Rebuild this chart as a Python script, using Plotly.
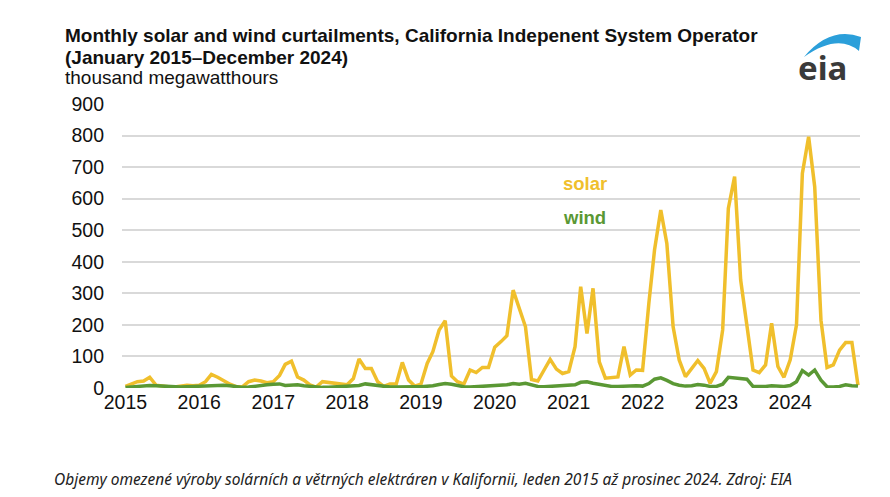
import pandas as pd
import plotly.graph_objects as go

months = pd.date_range("2015-01-01", "2024-12-01", freq="MS")

solar = [
    5, 12, 20, 22, 34, 9, 6, 4, 3, 6, 9, 7,          # 2015
    9, 20, 43, 34, 22, 12, 4, 4, 20, 25, 22, 17,     # 2016
    20, 40, 75, 85, 35, 25, 10, 3, 20, 18, 14, 12,   # 2017
    10, 30, 92, 62, 62, 20, 5, 13, 13, 81, 25, 6,    # 2018
    12, 78, 115, 184, 213, 38, 20, 12, 57, 49, 65, 65,   # 2019
    129, 147, 166, 310, 252, 194, 27, 22, 57, 91, 60, 46,  # 2020
    52, 131, 321, 173, 316, 83, 31, 33, 35, 131, 41, 57,   # 2021
    56, 268, 437, 564, 458, 194, 89, 36, 62, 87, 62, 15,   # 2022
    52, 184, 569, 670, 342, 194, 57, 49, 73, 205, 68, 34,  # 2023
    89, 200, 680, 796, 638, 215, 65, 73, 120, 144, 144, 9, # 2024
]

wind = [
    2, 4, 6, 7, 8, 7, 6, 4, 3, 3, 4, 5,
    5, 7, 9, 10, 9, 7, 4, 2, 3, 6, 8, 10,
    12, 13, 8, 8, 10, 7, 5, 3, 2, 2, 3, 3,
    4, 6, 8, 13, 10, 7, 4, 3, 3, 4, 4, 4,
    4, 5, 7, 11, 14, 12, 8, 4, 3, 4, 5, 6,
    6, 8, 10, 14, 12, 15, 10, 5, 4, 5, 7, 8,
    8, 10, 18, 20, 15, 11, 7, 5, 5, 6, 6, 7,
    6, 14, 28, 32, 24, 14, 9, 6, 7, 11, 9, 5,
    5, 12, 34, 32, 32, 28, 5, 4, 5, 7, 5, 5,
    8, 20, 55, 41, 57, 25, 4, 3, 5, 10, 7, 6,
]

year_ticks = [f"{y}-01-01" for y in range(2015, 2025)]
year_labels = [str(y) for y in range(2015, 2025)]
y_ticks = list(range(0, 901, 100))

SOLAR_C = "#F0BF2C"
WIND_C = "#5A9834"

OFF = 8  # page margin offset
W, H = 890 - OFF, 497 - OFF
L, R, T, B = 122 - OFF, 30, 104 - OFF, 109
PW, PH = W - L - R, H - T - B


def px(x):
    return (x - OFF - L) / PW


def py(y):
    return (H - B - (y - OFF)) / PH


fig = go.Figure()
fig.add_trace(go.Scatter(x=months, y=solar, mode="lines", name="solar",
                         line=dict(color=SOLAR_C, width=3.5)))
fig.add_trace(go.Scatter(x=months, y=wind, mode="lines", name="wind",
                         line=dict(color=WIND_C, width=3.5)))

axis_font = dict(family="Liberation Sans, Arial, sans-serif", size=19.5, color="#111")

fig.update_layout(
    width=W, height=H,
    margin=dict(l=L, r=R, t=T, b=B),
    paper_bgcolor="white", plot_bgcolor="white",
    showlegend=False,
    xaxis=dict(range=["2014-12-15", "2024-12-11"], tickvals=year_ticks,
               ticktext=year_labels, showgrid=False, zeroline=False,
               showline=False, ticks="", tickfont=axis_font),
    yaxis=dict(range=[0, 900], tickvals=y_ticks, showgrid=True,
               gridcolor="#d9d9d9", gridwidth=1.5, zeroline=False,
               showline=False, ticks="", tickfont=axis_font,
               ticklabelstandoff=17),
)

title_font = "Liberation Sans, Arial, sans-serif"
annos = [
    dict(text="<b>Monthly solar and wind curtailments, California Indepenent System Operator</b>",
         x=px(63), y=py(35), size=19),
    dict(text="<b>(January 2015\u2013December 2024)</b>", x=px(63), y=py(57), size=19),
    dict(text="thousand megawatthours", x=px(63), y=py(78), size=19),
]
for a in annos:
    fig.add_annotation(text=a["text"], x=a["x"], y=a["y"], xref="paper", yref="paper",
                       xanchor="left", yanchor="middle", showarrow=False,
                       font=dict(family=title_font, size=a["size"], color="#111"))

fig.add_annotation(text="<b>solar</b>", x=px(585), y=py(183), xref="paper", yref="paper",
                   xanchor="center", yanchor="middle", showarrow=False,
                   font=dict(family=title_font, size=18.5, color=SOLAR_C))
fig.add_annotation(text="<b>wind</b>", x=px(584), y=py(217), xref="paper", yref="paper",
                   xanchor="center", yanchor="middle", showarrow=False,
                   font=dict(family=title_font, size=18.5, color=WIND_C))

fig.add_annotation(
    text="<i>Objemy omezené výroby solárních a větrných elektráren v Kalifornii, leden 2015 až prosinec 2024. Zdroj: EIA</i>",
    x=px(52), y=py(479), xref="paper", yref="paper", xanchor="left", yanchor="middle",
    showarrow=False, font=dict(family="Noto Sans, sans-serif", size=15.5, color="#222"))

# eia logo
fig.add_annotation(text="<b>eia</b>", x=px(822), y=py(67), xref="paper", yref="paper",
                   xanchor="center", yanchor="middle", showarrow=False,
                   font=dict(family="Noto Sans, sans-serif", size=33, color="#3a3a3a"))


def P(x, y):
    return f"{px(x):.5f},{py(y):.5f}"


swoosh = (f"M {P(804,57)} Q {P(830,26)} {P(861,37)} L {P(859,51)} "
          f"Q {P(838,33)} {P(804,57)} Z")
fig.add_shape(type="path", path=swoosh, xref="paper", yref="paper",
              fillcolor="#2B9FDA", line=dict(width=0))

fig.write_html("out.html")
